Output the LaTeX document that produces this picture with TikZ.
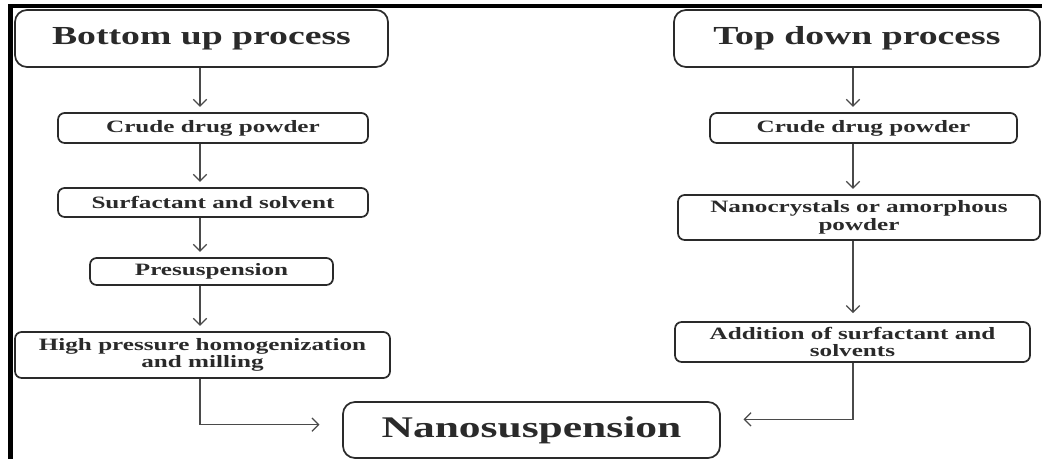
\documentclass[tikz,border=0pt]{standalone}
\usepackage{fontspec}
\setmainfont{Liberation Serif}[FakeStretch=1.45]
\usetikzlibrary{arrows.meta, positioning}
\definecolor{ink}{HTML}{2A2A2A}
\definecolor{wire}{HTML}{4A4A4A}
\tikzset{
  stage/.style={draw=ink, line width=1.3pt, rounded corners=5pt, inner sep=0pt,
    align=center, text=ink, font=\fontsize{13}{13}\selectfont\bfseries},
  head/.style={stage, rounded corners=9pt, font=\fontsize{19.5}{20}\selectfont\bfseries},
  arr/.style={draw=wire, line width=0.9pt, -{Straight Barb[length=5pt,width=10pt]}}
}
\begin{document}
\begin{tikzpicture}[x=0.75pt, y=-0.75pt]
\useasboundingbox (0,0) rectangle (1042,459);
\draw[line width=3.2pt] (1042,6) -- (10.5,6) -- (10.5,459);
\coordinate (lcol) at (200,0);
\coordinate (rcol) at (853,0);
\node (bu)   at (201.5,38.5) [head, minimum width=279.75pt, minimum height=42.75pt] {Bottom up process};
\node (buA)  at (213,128)    [stage, minimum width=232.5pt, minimum height=22.5pt] {Crude drug powder};
\node (buB)  at (213,202.5)  [stage, minimum width=232.5pt, minimum height=21.75pt] {Surfactant and solvent};
\node (buC)  at (211.5,271.5)[stage, minimum width=182.25pt, minimum height=20.25pt] {Presuspension};
\node (buD)  at (202.5,355)  [stage, minimum width=281.25pt, minimum height=34.5pt] {High pressure homogenization\\and milling};
\node (td)   at (857,38.5)   [head, minimum width=274.5pt, minimum height=42.75pt] {Top down process};
\node (tdA)  at (863.5,128)  [stage, minimum width=230.25pt, minimum height=22.5pt] {Crude drug powder};
\node (tdB)  at (859,217.5)  [stage, minimum width=271.5pt, minimum height=33.75pt] {Nanocrystals or amorphous\\powder};
\node (tdC)  at (852.5,342)  [stage, minimum width=266.25pt, minimum height=30pt] {Addition of surfactant and\\solvents};
\node (nano) at (531.5,430)  [head, minimum width=282.75pt, minimum height=42pt, font=\fontsize{22.5}{23}\selectfont\bfseries] {Nanosuspension};
\draw[arr, shorten >=4pt] (bu.south -| lcol) -- (buA.north -| lcol);
\draw[arr, shorten >=4pt] (buA.south -| lcol) -- (buB.north -| lcol);
\draw[arr, shorten >=4pt] (buB.south -| lcol) -- (buC.north -| lcol);
\draw[arr, shorten >=4pt] (buC.south -| lcol) -- (buD.north -| lcol);
\draw[arr, shorten >=4pt] (td.south -| rcol) -- (tdA.north -| rcol);
\draw[arr, shorten >=4pt] (tdA.south -| rcol) -- (tdB.north -| rcol);
\draw[arr, shorten >=6pt] (tdB.south -| rcol) -- (tdC.north -| rcol);
\draw[arr, shorten >=17pt] (buD.south -| lcol) |- ([yshift=4pt]nano.west);
\draw[arr, shorten >=17pt] (tdC.south -| rcol) |- ([yshift=8pt]nano.east);
\end{tikzpicture}
\end{document}
